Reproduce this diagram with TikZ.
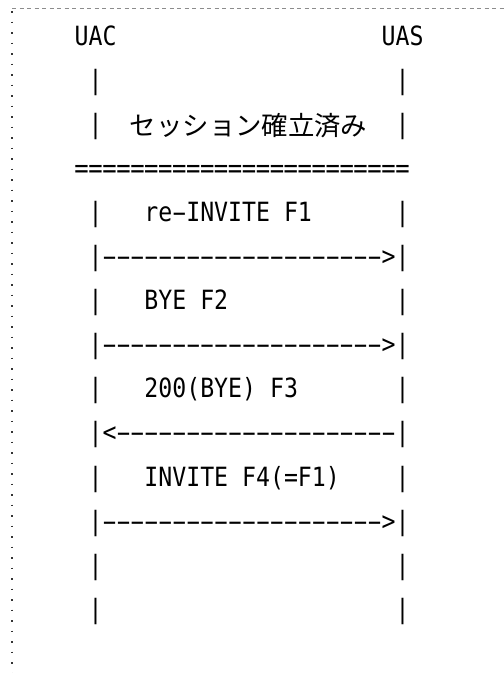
\documentclass[tikz,border=0pt]{standalone}
\usepackage{fontspec}
\usepackage{graphicx}
\newfontfamily\monofnt[FakeStretch=0.875,Ligatures=TeXOff]{DejaVu Sans Mono}
\newfontfamily\jafnt{Noto Sans CJK JP}
\newcommand\cellw{13.95pt}
\newcommand\hy{\makebox[\cellw][c]{\scalebox{1.9}[1]{-}}}
\newcommand\eqc{\makebox[\cellw][c]{\scalebox{1.03}[1]{=}}}
\newcommand\hyrun[1]{\foreach \k in {1,...,#1}{\hy}}
\newcommand\eqrun[1]{\foreach \k in {1,...,#1}{\eqc}}
\begin{document}
\begin{tikzpicture}[x=1pt,y=-1pt,
  tt/.style={inner sep=0pt,outer sep=0pt,anchor=base west,font=\monofnt\fontsize{26.5}{26.5}\selectfont},
  ja/.style={inner sep=0pt,outer sep=0pt,anchor=base west,font=\jafnt\fontsize{26.4}{26.4}\selectfont},
  topborder/.style={draw=black!45,line width=1pt,dash pattern=on 4pt off 3.5pt},
  leftborder/.style={draw=black!80,line width=1.8pt,dash pattern=on 1.8pt off 8.7pt}]
\useasboundingbox (0,0) rectangle (504,673);
\def\cw{13.95}
\def\cx#1{74.7+\cw*#1}
\def\by#1{45+44.1*#1}
\draw[topborder] (12,8) -- (504,8);
\draw[leftborder] (12,11) -- (12,673);
% row 0
\node[tt] (uac) at ({\cx{0}},{\by{0}}) {UAC};
\node[tt] (uas) at ({\cx{22}},{\by{0}}) {UAS};
% row 1
\node[tt] (l1) at ({\cx{1}},{\by{1}}) {|};
\node[tt] (r1) at ({\cx{23}},{\by{1}}) {|};
% row 2
\node[tt] (l2) at ({\cx{1}},{\by{2}}) {|};
\node[ja] (sess) at (129.8,135.5) {セッション確立済み};
\node[tt] (r2) at ({\cx{23}},{\by{2}}) {|};
% row 3
\node[tt] (eq) at ({\cx{0}},{\by{3}}) {\eqrun{24}};
% row 4
\node[tt] (l4) at ({\cx{1}},{\by{4}}) {|};
\node[tt] (m1) at ({\cx{5}},{\by{4}}) {re\hy INVITE F1};
\node[tt] (r4) at ({\cx{23}},{\by{4}}) {|};
% row 5
\node[tt] (a1) at ({\cx{1}},{\by{5}}) {|\hyrun{20}>|};
% row 6
\node[tt] (l6) at ({\cx{1}},{\by{6}}) {|};
\node[tt] (m2) at ({\cx{5}},{\by{6}}) {BYE F2};
\node[tt] (r6) at ({\cx{23}},{\by{6}}) {|};
% row 7
\node[tt] (a2) at ({\cx{1}},{\by{7}}) {|\hyrun{20}>|};
% row 8
\node[tt] (l8) at ({\cx{1}},{\by{8}}) {|};
\node[tt] (m3) at ({\cx{5}},{\by{8}}) {200(BYE) F3};
\node[tt] (r8) at ({\cx{23}},{\by{8}}) {|};
% row 9
\node[tt] (a3) at ({\cx{1}},{\by{9}}) {|<\hyrun{20}|};
% row 10
\node[tt] (l10) at ({\cx{1}},{\by{10}}) {|};
\node[tt] (m4) at ({\cx{5}},{\by{10}}) {INVITE F4(=F1)};
\node[tt] (r10) at ({\cx{23}},{\by{10}}) {|};
% row 11
\node[tt] (a4) at ({\cx{1}},{\by{11}}) {|\hyrun{20}>|};
% rows 12,13
\node[tt] (l12) at ({\cx{1}},{\by{12}}) {|};
\node[tt] (r12) at ({\cx{23}},{\by{12}}) {|};
\node[tt] (l13) at ({\cx{1}},{\by{13}}) {|};
\node[tt] (r13) at ({\cx{23}},{\by{13}}) {|};
\end{tikzpicture}
\end{document}
